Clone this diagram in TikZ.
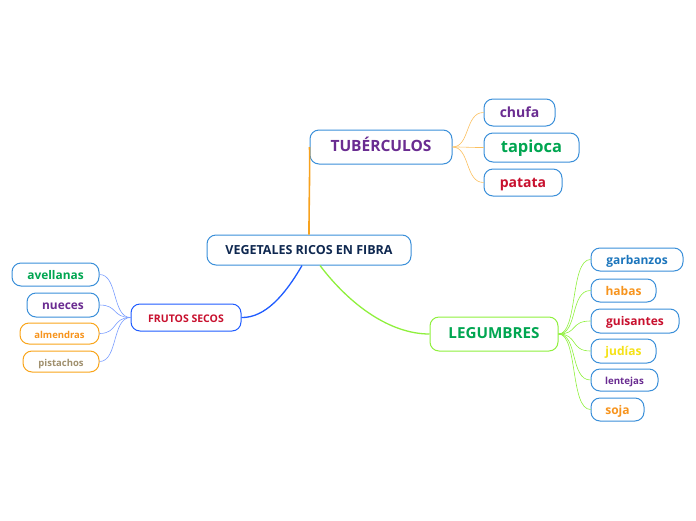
\documentclass[tikz,border=0pt]{standalone}
\usepackage{fontspec}
\setmainfont{Open Sans}
\definecolor{bord}{HTML}{3A8FD9}
\definecolor{fsb}{HTML}{1F5CFF}
\definecolor{legb}{HTML}{8FF03D}
\definecolor{orb}{HTML}{F9A51B}
\definecolor{cpur}{HTML}{6A2C91}
\definecolor{cgrn}{HTML}{00A651}
\definecolor{cred}{HTML}{C8102E}
\definecolor{cora}{HTML}{F7941D}
\definecolor{cyel}{HTML}{F5E216}
\definecolor{cblu}{HTML}{1B75BC}
\definecolor{cgry}{HTML}{A0906E}
\definecolor{cnav}{HTML}{0F2850}
\definecolor{ctop}{HTML}{F7A21E}
\begin{document}
\begin{tikzpicture}[x=1pt,y=-1pt,
  box/.style={draw=bord,line width=1pt,rounded corners=9pt,fill=white,inner sep=0pt,text height=0.9em,text depth=0pt},
  lf/.style={line width=0.6pt},
]
\useasboundingbox (0,0) rectangle (696,520);
% nodes
\node[box,minimum width=204pt,minimum height=30pt,text=cnav,font=\bfseries\fontsize{12.5}{14}\selectfont] (root) at (309,250) {VEGETALES RICOS EN FIBRA};
\node[box,minimum width=142pt,minimum height=34pt,text=cpur,font=\bfseries\fontsize{15.5}{18}\selectfont] (tub) at (381,147) {TUBÉRCULOS};
\node[box,minimum width=71pt,minimum height=27pt,text=cpur,font=\bfseries\fontsize{14}{16}\selectfont] (chufa) at (519.5,112.5) {chufa};
\node[box,minimum width=95pt,minimum height=29pt,text=cgrn,font=\bfseries\fontsize{16.5}{19}\selectfont] (tapioca) at (531.5,147.5) {tapioca};
\node[box,minimum width=78pt,minimum height=27pt,text=cred,font=\bfseries\fontsize{14}{16}\selectfont] (patata) at (523,182.5) {patata};
\node[box,draw=fsb,minimum width=110pt,minimum height=27pt,text=cred,font=\bfseries\fontsize{10.5}{12}\selectfont] (fs) at (186,317.5) {FRUTOS SECOS};
\node[box,minimum width=87pt,minimum height=23pt,text=cgrn,font=\bfseries\fontsize{11.9}{14}\selectfont] (avel) at (55.5,274.5) {avellanas};
\node[box,minimum width=72pt,minimum height=24pt,text=cpur,font=\bfseries\fontsize{11.9}{14}\selectfont] (nuec) at (63,305) {nueces};
\node[box,draw=orb,minimum width=79pt,minimum height=21pt,text=cora,font=\bfseries\fontsize{9.5}{11}\selectfont] (alme) at (59.5,333.5) {almendras};
\node[box,draw=orb,minimum width=76pt,minimum height=21pt,text=cgry,font=\bfseries\fontsize{9.5}{11}\selectfont] (pist) at (61,361.5) {pistachos};
\node[box,draw=legb,minimum width=128pt,minimum height=34pt,text=cgrn,font=\bfseries\fontsize{15.2}{18}\selectfont] (leg) at (494,334) {LEGUMBRES};
\node[box,minimum width=92pt,minimum height=23pt,text=cblu,font=\bfseries\fontsize{12}{14}\selectfont] (garb) at (637,259.5) {garbanzos};
\node[box,minimum width=65pt,minimum height=23pt,text=cora,font=\bfseries\fontsize{12}{14}\selectfont] (haba) at (623.5,290.5) {habas};
\node[box,minimum width=88pt,minimum height=24pt,text=cred,font=\bfseries\fontsize{12}{14}\selectfont] (guis) at (635,321) {guisantes};
\node[box,minimum width=65pt,minimum height=24pt,text=cyel,font=\bfseries\fontsize{12}{14}\selectfont] (judi) at (623.5,351) {judías};
\node[box,minimum width=67pt,minimum height=22pt,text=cpur,font=\bfseries\fontsize{9.7}{11}\selectfont] (lent) at (624.5,380) {lentejas};
\node[box,minimum width=53pt,minimum height=23pt,text=cora,font=\bfseries\fontsize{12}{14}\selectfont] (soja) at (617.5,409.5) {soja};
% main connectors
\draw[ctop,line width=1.6pt] (root.north -| 309,0) .. controls (309,200) and (310,170) .. (tub.west);
\draw[fsb,line width=1.3pt] ([xshift=-7pt]root.south) .. controls (285,295) and (265,318) .. (fs.east);
\draw[legb,line width=1.3pt] ([xshift=11pt]root.south) .. controls (350,305) and (390,334) .. (leg.west);
% tuberculos children
\foreach \c in {chufa,tapioca,patata}
  \draw[orb!70,lf] (tub.east) .. controls (470,147) and (465,0 |- \c.west) .. (\c.west);
% frutos children
\foreach \c in {avel,nuec,alme,pist}
  \draw[fsb!60,lf] (fs.west) .. controls (112,317.5) and (118,0 |- \c.east) .. (\c.east);
% legumbres children
\foreach \c in {garb,haba,guis,judi,lent,soja}
  \draw[legb,lf] (leg.east) .. controls (578,334) and (570,0 |- \c.west) .. (\c.west);
\end{tikzpicture}
\end{document}
